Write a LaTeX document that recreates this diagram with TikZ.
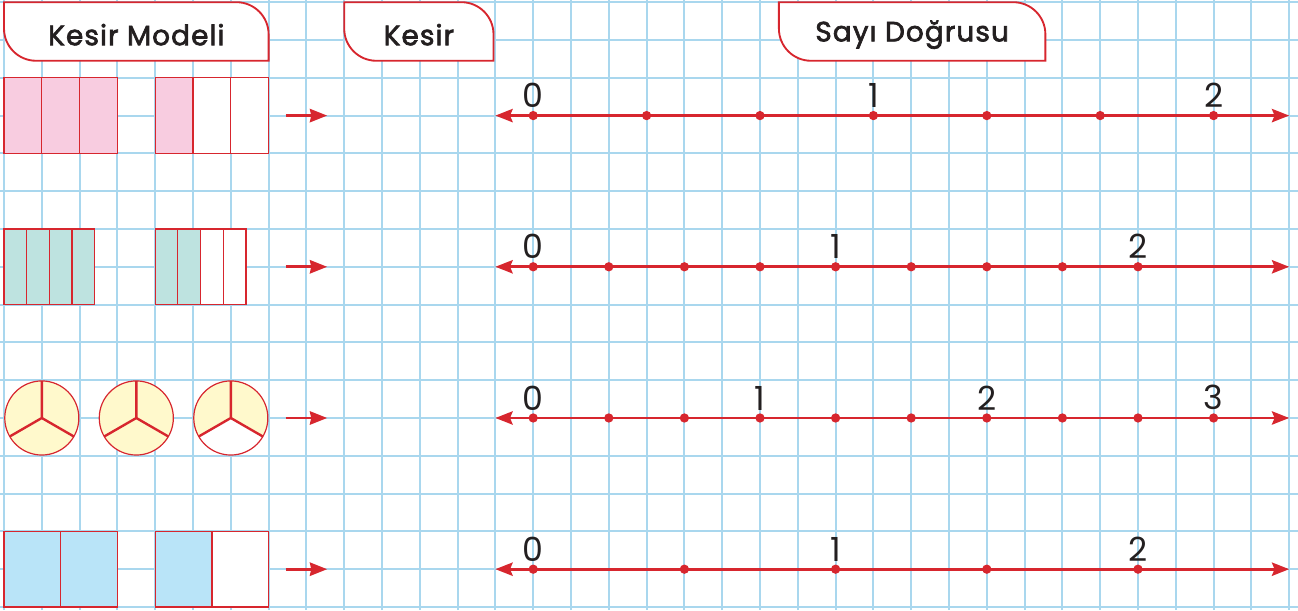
\documentclass[tikz,border=0pt]{standalone}
\usepackage{fontspec}
\setmainfont{Poppins}
\newfontfamily\hdrfont{Poppins}[FakeBold=2.4, LetterSpace=4]
\usetikzlibrary{arrows.meta,positioning,calc}
\definecolor{kred}{HTML}{D7262E}
\definecolor{gridBlue}{HTML}{A9D7EE}
\definecolor{pinkFill}{HTML}{F8CCE0}
\definecolor{tealFill}{HTML}{BEE3E0}
\definecolor{yelFill}{HTML}{FFF9CC}
\definecolor{blueFill}{HTML}{B9E4F8}
\definecolor{ink}{HTML}{231F20}

\begin{document}
\begin{tikzpicture}[
  cell/.style={draw=kred, line width=0.9pt},
  hdr/.style={draw=kred, fill=white, line width=1.4pt},
  hdrtext/.style={font=\hdrfont\fontsize{21}{24}\selectfont, text=ink},
  numline/.style={draw=kred, line width=2pt,
                  {Stealth[length=13pt,width=10pt,inset=2pt]}-{Stealth[length=13pt,width=10pt,inset=2pt]}},
  toarrow/.style={draw=kred, line width=2pt, -{Stealth[length=13pt,width=10pt,inset=1pt]}},
  tick/.style={circle, fill=kred, inner sep=0pt, minimum size=7pt},
  num/.style={font=\fontsize{25}{27}\selectfont, text=ink, inner sep=1pt}
]
  \useasboundingbox (-0.106,0.058) rectangle (34.233,-16.08);
  \draw[gridBlue, line width=1.4pt] (-0.106,0.058) grid (34.233,-16.08);

  \foreach \a/\b/\nm/\txt in {0/7/hModel/Kesir Modeli, 9/12.95/hKesir/Kesir, 20.5/27.55/hSayi/Sayı Doğrusu} {
    \draw[hdr] (\a,0) -- ({\b-0.85},0) arc (90:0:0.85) -- (\b,-1.55)
      -- ({\a+0.85},-1.55) arc (270:180:0.85) -- cycle;
    \node[hdrtext] (\nm) at ({(\a+\b)/2},-0.86) {\txt};
  }

  \foreach \i in {0,1,2}
    \draw[cell, fill=pinkFill] (\i,-2) rectangle ++(1,-2);
  \foreach \i/\c in {4/pinkFill,5/white,6/white}
    \draw[cell, fill=\c] (\i,-2) rectangle ++(1,-2);

  \foreach \i in {0,...,3}
    \draw[cell, fill=tealFill] ({0.6*\i},-6) rectangle ++(0.6,-2);
  \foreach \i/\c in {0/tealFill,1/tealFill,2/white,3/white}
    \draw[cell, fill=\c] ({4+0.6*\i},-6) rectangle ++(0.6,-2);

  \foreach \cx/\c in {1/yelFill,3.5/yelFill,6/white} {
    \fill[yelFill] (\cx,-11) circle (0.98);
    \fill[\c] (\cx,-11) -- ++(210:0.98) arc (210:330:0.98) -- cycle;
    \draw[cell] (\cx,-11) circle (0.98);
    \draw[kred, line width=1.8pt] (\cx,-11) -- ++(90:0.98)
      (\cx,-11) -- ++(210:0.98) (\cx,-11) -- ++(330:0.98);
  }

  \foreach \i in {0,1}
    \draw[cell, fill=blueFill] ({1.5*\i},-14) rectangle ++(1.5,-2);
  \foreach \i/\c in {0/blueFill,1/white}
    \draw[cell, fill=\c] ({4+1.5*\i},-14) rectangle ++(1.5,-2);

  \foreach \r/\y/\d/\e in {1/3/3/32, 2/7/2/30, 3/11/2/32, 4/15/4/30} {
    \coordinate (A\r) at (7.45,-\y);
    \coordinate (B\r) at (8.55,-\y);
    \draw[toarrow] (A\r) -- (B\r);
    \coordinate (L\r) at (13,-\y);
    \coordinate (R\r) at (34,-\y);
    \draw[numline] (L\r) -- (R\r);
    \pgfmathtruncatemacro\s{14+\d}
    \foreach \t in {14,\s,...,\e}
      \node[tick] (t\r-\t) at (\t,-\y) {};
  }

  \foreach \r/\t/\n in {1/14/0, 1/23/1, 1/32/2, 2/14/0, 2/22/1, 2/30/2,
                        3/14/0, 3/20/1, 3/26/2, 3/32/3, 4/14/0, 4/22/1, 4/30/2}
    \node[num, above=1pt of t\r-\t] (n\r-\t) {\n};
\end{tikzpicture}
\end{document}
